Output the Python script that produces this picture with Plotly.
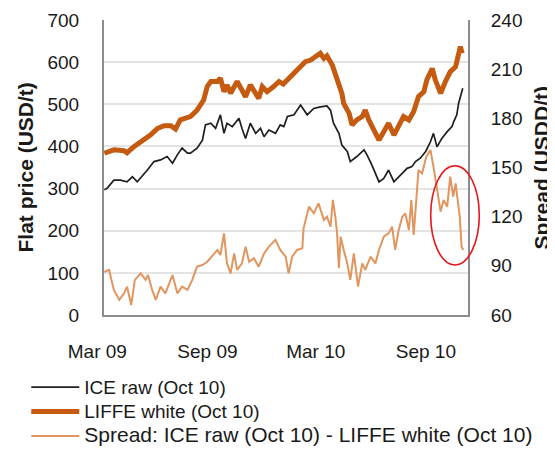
import plotly.graph_objects as go

# ---------------- data ----------------
ice_dates = ["2009-03-13","2009-03-18","2009-03-29","2009-04-09","2009-04-20","2009-04-29","2009-05-07","2009-05-15",
             "2009-05-24","2009-06-04","2009-06-15","2009-06-26","2009-07-05","2009-07-13","2009-07-21","2009-07-30",
             "2009-08-04","2009-08-15","2009-08-24","2009-08-29","2009-09-07","2009-09-15","2009-09-23","2009-09-29",
             "2009-10-04","2009-10-13","2009-10-24","2009-10-29","2009-11-04","2009-11-12","2009-11-21","2009-11-29",
             "2009-12-05","2009-12-13","2009-12-24","2010-01-01","2010-01-07","2010-01-13","2010-01-24","2010-02-04",
             "2010-02-15","2010-02-26","2010-03-09","2010-03-20","2010-03-26","2010-03-31","2010-04-09","2010-04-14",
             "2010-04-23","2010-04-28","2010-05-09","2010-05-21","2010-05-26","2010-06-03","2010-06-09","2010-06-15",
             "2010-06-23","2010-07-01","2010-07-10","2010-07-21","2010-08-01","2010-08-09","2010-08-15","2010-08-23",
             "2010-09-01","2010-09-09","2010-09-14","2010-09-20","2010-09-28","2010-10-07","2010-10-15","2010-10-18",
             "2010-10-23","2010-10-26","2010-10-29","2010-11-02"]
ice_values = [297,301,320,320,316,328,316,328,
              344,364,368,376,360,380,396,384,
              384,396,415,451,455,443,475,431,
              455,447,467,443,419,455,431,443,
              423,439,431,451,447,471,475,498,
              475,490,494,496,486,455,431,403,
              388,364,376,392,380,356,336,316,
              324,344,316,332,348,352,364,372,
              388,411,431,399,419,435,447,459,
              475,502,518,538]

liffe_dates = ["2009-03-13","2009-03-29","2009-04-15","2009-04-20","2009-05-02","2009-05-18","2009-05-29","2009-06-10",
               "2009-06-21","2009-07-02","2009-07-10","2009-07-18","2009-07-30","2009-08-04","2009-08-15","2009-08-26",
               "2009-09-01","2009-09-07","2009-09-18","2009-09-23","2009-09-29","2009-10-04","2009-10-10","2009-10-21",
               "2009-10-29","2009-11-04","2009-11-12","2009-11-21","2009-11-26","2009-12-02","2009-12-10","2009-12-21",
               "2009-12-30","2010-01-06","2010-01-13","2010-01-24","2010-02-04","2010-02-12","2010-02-21","2010-03-04",
               "2010-03-09","2010-03-15","2010-03-20","2010-03-29","2010-04-06","2010-04-14","2010-04-17","2010-04-26",
               "2010-05-01","2010-05-09","2010-05-18","2010-05-23","2010-05-29","2010-06-06","2010-06-15","2010-06-23",
               "2010-07-01","2010-07-10","2010-07-18","2010-07-26","2010-08-04","2010-08-12","2010-08-20","2010-08-29",
               "2010-09-03","2010-09-12","2010-09-17","2010-09-26","2010-10-04","2010-10-12","2010-10-21","2010-10-26",
               "2010-10-29","2010-11-01"]
liffe_values = [384,392,390,385,400,415,427,443,
                449,449,441,463,467,471,486,510,
                542,554,554,562,530,546,526,554,
                534,518,546,522,514,542,530,542,
                554,548,558,570,589,601,605,617,
                621,609,615,593,558,526,502,479,
                451,463,471,486,463,443,415,435,
                455,427,447,471,463,483,518,530,
                558,585,558,526,554,577,589,617,
                637,621]

spread_dates = ["2009-03-13","2009-03-21","2009-03-29","2009-04-07","2009-04-15","2009-04-20","2009-04-27","2009-05-03",
                "2009-05-13","2009-05-21","2009-05-25","2009-06-01","2009-06-07","2009-06-15","2009-06-23","2009-06-29",
                "2009-07-05","2009-07-13","2009-07-21","2009-07-30","2009-08-07","2009-08-15","2009-08-24","2009-09-01",
                "2009-09-09","2009-09-18","2009-09-23","2009-09-29","2009-10-04","2009-10-10","2009-10-16","2009-10-21",
                "2009-10-29","2009-11-04","2009-11-10","2009-11-18","2009-11-26","2009-12-05","2009-12-13","2009-12-24",
                "2010-01-01","2010-01-10","2010-01-15","2010-01-21","2010-01-29","2010-02-07","2010-02-09","2010-02-18",
                "2010-02-26","2010-03-06","2010-03-15","2010-03-20","2010-03-26","2010-03-30","2010-04-03","2010-04-06",
                "2010-04-09","2010-04-12","2010-04-17","2010-04-23","2010-04-28","2010-05-04","2010-05-11","2010-05-18",
                "2010-05-23","2010-06-01","2010-06-09","2010-06-15","2010-06-23","2010-07-01","2010-07-07","2010-07-12",
                "2010-07-18","2010-07-24","2010-07-29","2010-08-04","2010-08-08","2010-08-12","2010-08-20","2010-08-26",
                "2010-09-02","2010-09-09","2010-09-14","2010-09-20","2010-09-26","2010-10-01","2010-10-07","2010-10-12",
                "2010-10-17","2010-10-21","2010-10-25","2010-10-28","2010-10-31","2010-11-03"]
spread_values = [86.4,87.5,75.3,69.2,73.2,77.3,66.1,81.4,
                 85.4,81.4,84.4,75.3,69.2,77.3,73.2,78.3,
                 84.4,73.2,77.3,75.3,81.4,89.5,90.5,92.5,
                 95.6,99.7,96.6,109.8,91.5,85.4,97.6,87.5,
                 91.5,101.7,92.5,94.6,89.5,97.6,101.7,105.8,
                 99.7,95.6,85.4,95.6,99.7,100.7,112.9,126.1,
                 122.0,128.1,118.0,120.0,113.9,130.2,120.0,109.8,
                 88.5,107.8,99.7,91.5,81.4,97.6,77.3,91.5,
                 87.5,95.6,91.5,99.7,107.8,109.8,113.9,99.7,
                 111.9,120.0,122.0,111.9,130.2,108.8,148.5,146.4,
                 156.6,160.7,150.5,136.3,123.1,130.2,126.1,144.4,
                 132.2,140.3,130.2,120.0,101.7,99.7]

# x tick labels (Excel places each label slightly left of its mid-month anchor)
x_tick_dates = ["2009-03-13", "2009-09-13", "2010-03-13", "2010-09-13"]
x_tick_labels = ["Mar 09", "Sep 09", "Mar 10", "Sep 10"]

left_title = "Flat price (USD/t)"
right_title = "Spread (USDD/t)"
names = ["ICE raw (Oct 10)", "LIFFE white (Oct 10)", "Spread: ICE raw (Oct 10) - LIFFE white (Oct 10)"]

# ---------------- figure ----------------
FONT = "Liberation Sans, Arial, Helvetica, sans-serif"
TXT = "#1a1a1a"
AXIS = "#8c8c8c"
GRID = "#e4e4e4"

fig = go.Figure()
fig.add_trace(go.Scatter(x=ice_dates, y=ice_values, mode="lines",
                         name="<span style='font-size:19px'>" + names[0] + "</span>",
                         line=dict(color="#1f1f1f", width=1.7)))
fig.add_trace(go.Scatter(x=liffe_dates, y=liffe_values, mode="lines",
                         name="<span style='font-size:19px'>" + names[1] + "</span>",
                         line=dict(color="#c55a11", width=5)))
fig.add_trace(go.Scatter(x=spread_dates, y=spread_values, mode="lines", yaxis="y2",
                         name="<span style='font-size:21px'>" + names[2] + "</span>",
                         line=dict(color="#e1955f", width=2)))

fig.add_annotation(x=-0.217, xref="paper", y=0.5, yref="paper", text="<b>" + left_title + "</b>",
                   textangle=-90, showarrow=False, xanchor="center", yanchor="middle",
                   font=dict(family=FONT, size=21, color=TXT))
fig.add_annotation(x=1.203, xref="paper", y=0.5, yref="paper", text="<b>" + right_title + "</b>",
                   textangle=-90, showarrow=False, xanchor="center", yanchor="middle",
                   font=dict(family=FONT, size=21, color=TXT))

fig.add_shape(type="circle", xref="paper", yref="paper", x0=0.8975, x1=1.031, y0=0.1695, y1=0.506,
              line=dict(color="#e8161b", width=1.6))

# the page body adds an 8px offset, so the figure itself is laid out 8px up/left
fig.update_layout(
    width=555, height=459,
    margin=dict(l=96, r=95, t=12, b=152, autoexpand=False),
    paper_bgcolor="white", plot_bgcolor="white",
    font=dict(family=FONT, size=19, color=TXT),
    showlegend=True,
    legend=dict(orientation="v", x=-0.2135, xanchor="left", y=-0.186, yanchor="top",
                font=dict(family=FONT, size=16.5, color=TXT), itemwidth=48,
                tracegroupgap=0, bgcolor="rgba(0,0,0,0)"),
    xaxis=dict(type="date", range=["2009-03-12 12:00", "2010-11-10 18:00"],
               tickmode="array", tickvals=x_tick_dates, ticktext=x_tick_labels,
               ticks="", ticklabelshift=-7, ticklabelstandoff=18,
               tickfont=dict(family=FONT, size=19, color=TXT),
               showgrid=False, showline=True, linecolor=AXIS, linewidth=2, zeroline=False),
    yaxis=dict(range=[0, 700], dtick=100, showgrid=True, gridcolor=GRID, gridwidth=2,
               showline=True, linecolor=AXIS, linewidth=2, zeroline=False,
               ticks="", ticklabelstandoff=19, tickfont=dict(family=FONT, size=19, color=TXT)),
    yaxis2=dict(range=[60, 240], dtick=30, overlaying="y", side="right", showgrid=False,
                showline=True, linecolor=AXIS, linewidth=2, zeroline=False,
                ticks="", ticklabelstandoff=17, tickfont=dict(family=FONT, size=19, color=TXT)),
)

fig.write_html("out.html")
